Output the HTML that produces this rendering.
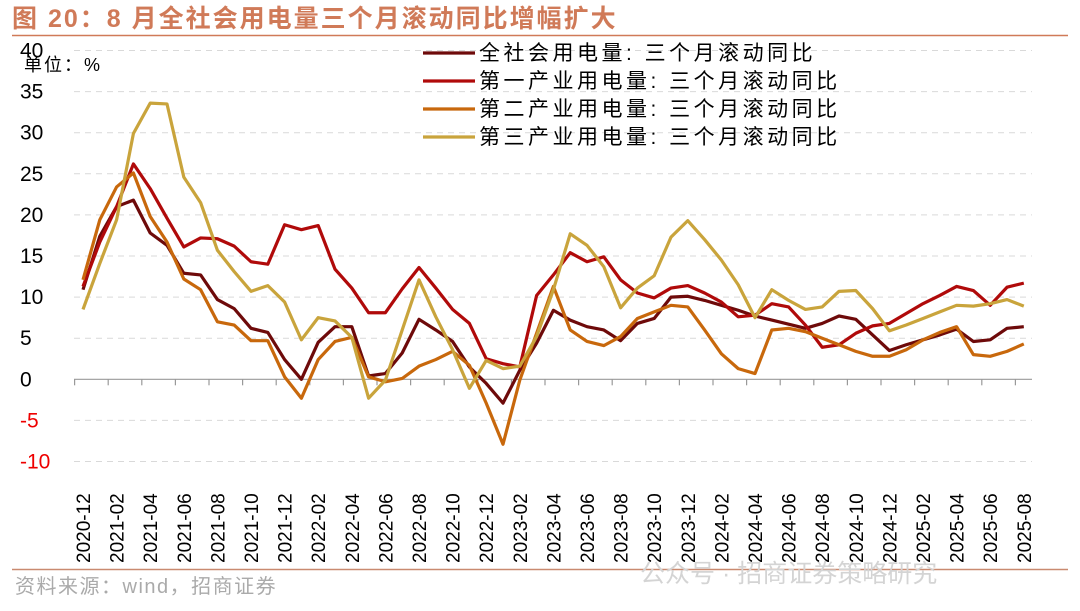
<!DOCTYPE html>
<html><head><meta charset="utf-8"><style>
body{margin:0;background:#fff;}
svg{display:block;font-family:"Liberation Sans","Noto Sans CJK SC",sans-serif;}
</style></head><body>
<svg id="chart" width="1080" height="611" viewBox="0 0 1080 611">
<text x="12" y="27" font-size="25" font-weight="bold" letter-spacing="2" fill="#d07a58">图 20：8 月全社会用电量三个月滚动同比增幅扩大</text>
<line x1="12" y1="35.5" x2="1068" y2="35.5" stroke="#d07a58" stroke-width="1.5"/>
<line x1="12" y1="569.5" x2="1068" y2="569.5" stroke="#c98a70" stroke-width="1.5"/>
<text x="15" y="593" font-size="20" letter-spacing="1.5" fill="#aaa">资料来源：wind，招商证券</text>
<text x="640" y="582" font-size="25" fill="#d4d4d4">公众号 · 招商证券策略研究</text>
<text x="24" y="71" font-size="18" letter-spacing="2" fill="#000">单位：%</text>
<g id="grid"></g><g id="axes"></g><g id="series"></g><g id="legend"></g>
</svg>
<script>
const categories = [];
for (let y = 2020, m = 12; categories.length < 57; ) { categories.push(y + '-' + String(m).padStart(2,'0')); m++; if (m > 12) { m = 1; y++; } }
const yTicks = [40,35,30,25,20,15,10,5,0,-5,-10];
const seriesNames = ['全社会用电量: 三个月滚动同比','第一产业用电量: 三个月滚动同比','第二产业用电量: 三个月滚动同比','第三产业用电量: 三个月滚动同比'];
const totalValues = [10.9,17.4,21,21.8,17.8,16.3,12.9,12.7,9.7,8.6,6.2,5.7,2.4,0,4.5,6.4,6.4,0.4,0.7,3.2,7.3,6,4.6,1.5,-0.5,-2.9,1.1,4.4,8.4,7.2,6.4,6,4.7,6.8,7.4,10,10.1,9.6,9,8.4,7.7,7.2,6.7,6.2,6.8,7.7,7.3,5.4,3.5,4.2,4.8,5.4,6.1,4.6,4.8,6.2,6.4];
const primaryValues = [11.3,16.7,21,26.2,23.2,19.6,16.1,17.2,17.1,16.2,14.3,14,18.8,18.2,18.7,13.4,11.1,8.1,8.1,11,13.6,11.1,8.5,6.8,2.5,1.9,1.5,10.2,12.7,15.4,14.3,14.9,12.1,10.5,9.9,11.1,11.4,10.5,9.4,7.6,7.8,9.2,8.8,6.6,3.9,4.2,5.6,6.5,6.8,8,9.2,10.2,11.3,10.8,9,11.2,11.7];
const secondaryValues = [12.1,19.4,23.4,25.1,19.8,16.7,12.2,10.9,7,6.6,4.7,4.7,0.3,-2.3,2.4,4.6,5.1,0.3,-0.3,0.1,1.6,2.4,3.4,1.7,-2.9,-7.9,-0.1,5.6,11.3,6,4.6,4.1,5.2,7.4,8.2,9,8.8,6,3.1,1.3,0.7,6,6.2,5.8,5,4.2,3.4,2.8,2.8,3.6,4.8,5.7,6.4,3,2.8,3.4,4.3];
const tertiaryValues = [8.5,14.1,19.4,29.9,33.6,33.5,24.6,21.5,15.7,13.1,10.7,11.4,9.4,4.8,7.5,7.1,5.1,-2.3,-0.1,6,12.1,7.6,3.6,-1.1,2.3,1.3,1.6,5.2,10.9,17.7,16.3,13.7,8.7,11.1,12.6,17.3,19.3,17,14.5,11.5,7.5,10.9,9.6,8.5,8.8,10.7,10.8,8.6,5.9,6.6,7.4,8.2,9,8.9,9.2,9.7,8.9];
const colors = ['#6e0a0a','#b00a0a','#c8680c','#c9a43c'];
const NS = 'http://www.w3.org/2000/svg';
const x = i => 83 + i * 16.8;
const y = v => 379.3 - v * 8.22;
function mk(tag, attrs, parent){ const e=document.createElementNS(NS,tag); for(const k in attrs) e.setAttribute(k,attrs[k]); parent.appendChild(e); return e; }
const grid=document.getElementById('grid'), axes=document.getElementById('axes'), ser=document.getElementById('series'), leg=document.getElementById('legend');
yTicks.forEach(t=>{
  if(t!==0){ const g=mk('line',{x1:74,x2:1032,y1:y(t),y2:y(t),stroke:'#d9d9d9','stroke-width':1,'stroke-dasharray':'6,5'},grid);
  
   }
  const tx=mk('text',{x:20,y:y(t)+7,'font-size':21,fill:t<0?'#e00':'#000'},axes);
  tx.textContent=t;
  
  
});
const ax=mk('line',{x1:74,x2:1032,y1:y(0),y2:y(0),stroke:'#999','stroke-width':1.2},axes);


for(let i=0;i<=categories.length;i+=2){
  const tk=mk('line',{x1:x(i)-8.4,x2:x(i)-8.4,y1:y(0),y2:y(0)+6,stroke:'#999','stroke-width':1.2},axes);
  
  
}
categories.forEach((c,i)=>{
  if(i%2) return;
  const t=mk('text',{x:0,y:0,'font-size':19,fill:'#000','text-anchor':'start',transform:`translate(${x(i)+7},563) rotate(-90)`},axes);
  t.textContent=c;
  
  
});
[totalValues,primaryValues,secondaryValues,tertiaryValues].forEach((vals,s)=>{
  const p=mk('polyline',{points:vals.map((v,i)=>x(i)+','+y(v)).join(' '),fill:'none',stroke:colors[s],'stroke-width':3.2,'stroke-linejoin':'round'},ser);
  
  
});
seriesNames.forEach((n,s)=>{
  const yy=53+s*28;
  const l=mk('line',{x1:423,x2:475,y1:yy,y2:yy,stroke:colors[s],'stroke-width':3.2},leg);
  
  
  const t=mk('text',{x:479,y:yy+7,'font-size':21,'letter-spacing':3.5,fill:'#000'},leg);
  t.textContent=n;
  
  
});
</script>
</body></html>
